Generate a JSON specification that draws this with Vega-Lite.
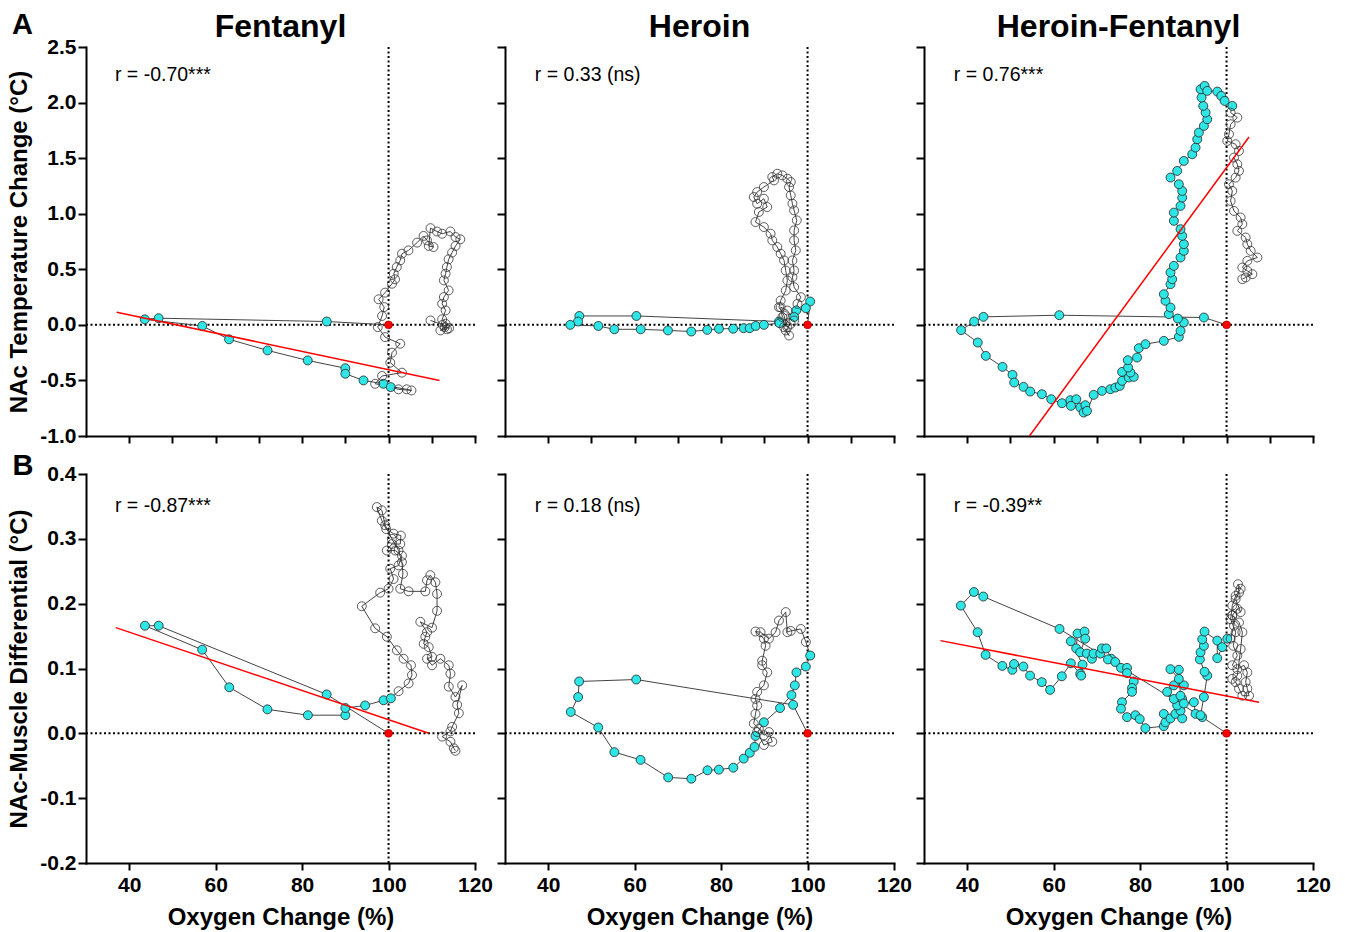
{
"$schema": "https://vega.github.io/schema/vega-lite/v6.json",
"padding": {"left": 7, "top": 10, "right": 5, "bottom": 5},
"datasets": {
"t1": [
{"k":"o","x":100,"y":0},
{"k":"c","x":85.7,"y":0.03},{"k":"c","x":46.8,"y":0.06},{"k":"c","x":43.6,"y":0.05},{"k":"c","x":56.9,"y":-0.01},{"k":"c","x":63.1,"y":-0.13},{"k":"c","x":72.0,"y":-0.23},{"k":"c","x":81.3,"y":-0.32},{"k":"c","x":90.0,"y":-0.39},{"k":"c","x":90.0,"y":-0.44},{"k":"c","x":94.2,"y":-0.5},{"k":"c","x":98.8,"y":-0.53},{"k":"c","x":100.5,"y":-0.56},
{"k":"b","x":102.3,"y":-0.58},{"k":"b","x":105.3,"y":-0.59},{"k":"b","x":104.2,"y":-0.58},{"k":"b","x":96.9,"y":-0.53},{"k":"b","x":98.5,"y":-0.46},{"k":"b","x":103.1,"y":-0.43},{"k":"b","x":100.4,"y":-0.34},{"k":"b","x":100.8,"y":-0.25},{"k":"b","x":102.7,"y":-0.17},{"k":"b","x":99.2,"y":-0.11},{"k":"b","x":97.5,"y":-0.02},{"k":"b","x":98.5,"y":0.08},{"k":"b","x":99.0,"y":0.16},{"k":"b","x":97.7,"y":0.23},{"k":"b","x":99.2,"y":0.29},{"k":"b","x":100.8,"y":0.37},{"k":"b","x":101.5,"y":0.41},{"k":"b","x":101.2,"y":0.46},{"k":"b","x":101.9,"y":0.52},{"k":"b","x":102.7,"y":0.58},{"k":"b","x":103.1,"y":0.64},{"k":"b","x":104.6,"y":0.67},{"k":"b","x":106.6,"y":0.74},{"k":"b","x":108.1,"y":0.8},{"k":"b","x":108.9,"y":0.76},{"k":"b","x":110.4,"y":0.7},{"k":"b","x":109.3,"y":0.71},{"k":"b","x":109.7,"y":0.87},{"k":"b","x":111.2,"y":0.84},{"k":"b","x":112.4,"y":0.82},{"k":"b","x":114.3,"y":0.84},{"k":"b","x":115.5,"y":0.79},{"k":"b","x":116.6,"y":0.77},{"k":"b","x":115.5,"y":0.71},{"k":"b","x":114.7,"y":0.65},{"k":"b","x":113.9,"y":0.59},{"k":"b","x":113.5,"y":0.52},{"k":"b","x":113.2,"y":0.46},{"k":"b","x":112.8,"y":0.4},{"k":"b","x":113.9,"y":0.31},{"k":"b","x":112.8,"y":0.25},{"k":"b","x":112.4,"y":0.19},{"k":"b","x":113.2,"y":0.13},{"k":"b","x":112.4,"y":0.05},{"k":"b","x":113.2,"y":0.01},{"k":"b","x":113.5,"y":-0.04},{"k":"b","x":112.0,"y":-0.05},{"k":"b","x":113.0,"y":-0.02},{"k":"b","x":114.0,"y":-0.03},{"k":"b","x":112.5,"y":0.0},{"k":"b","x":109.7,"y":0.04}
],
"t2": [
{"k":"o","x":100,"y":0},
{"k":"c","x":100.6,"y":0.21},{"k":"c","x":99.6,"y":0.15},{"k":"c","x":97.4,"y":0.13},{"k":"c","x":96.9,"y":0.07},{"k":"c","x":93.4,"y":0.03},{"k":"c","x":60.4,"y":0.08},{"k":"c","x":47.2,"y":0.08},{"k":"c","x":46.9,"y":0.03},{"k":"c","x":45.1,"y":0.0},{"k":"c","x":51.6,"y":-0.01},{"k":"c","x":55.3,"y":-0.04},{"k":"c","x":61.4,"y":-0.04},{"k":"c","x":67.7,"y":-0.05},{"k":"c","x":73.1,"y":-0.06},{"k":"c","x":76.8,"y":-0.045},{"k":"c","x":79.5,"y":-0.035},{"k":"c","x":82.8,"y":-0.035},{"k":"c","x":85.2,"y":-0.03},{"k":"c","x":86.6,"y":-0.03},{"k":"c","x":88.0,"y":-0.01},{"k":"c","x":89.9,"y":0.0},{"k":"c","x":93.5,"y":0.015},
{"k":"b","x":94.56,"y":-0.021},{"k":"b","x":95.72,"y":-0.096},{"k":"b","x":94.95,"y":-0.051},{"k":"b","x":96.11,"y":0.009},{"k":"b","x":94.17,"y":0.069},{"k":"b","x":93.78,"y":0.159},{"k":"b","x":95.33,"y":0.129},{"k":"b","x":96.89,"y":0.039},{"k":"b","x":97.67,"y":0.189},{"k":"b","x":98.44,"y":0.249},{"k":"b","x":96.89,"y":0.339},{"k":"b","x":96.5,"y":0.429},{"k":"b","x":96.89,"y":0.489},{"k":"b","x":96.5,"y":0.58},{"k":"b","x":97.28,"y":0.67},{"k":"b","x":96.89,"y":0.76},{"k":"b","x":96.89,"y":0.85},{"k":"b","x":97.51,"y":0.94},{"k":"b","x":96.89,"y":1.03},{"k":"b","x":96.5,"y":1.09},{"k":"b","x":96.11,"y":1.165},{"k":"b","x":95.72,"y":1.24},{"k":"b","x":96.11,"y":1.285},{"k":"b","x":95.33,"y":1.315},{"k":"b","x":94.17,"y":1.345},{"k":"b","x":93.0,"y":1.36},{"k":"b","x":91.84,"y":1.33},{"k":"b","x":92.23,"y":1.3},{"k":"b","x":89.9,"y":1.24},{"k":"b","x":88.34,"y":1.195},{"k":"b","x":87.56,"y":1.15},{"k":"b","x":88.34,"y":1.09},{"k":"b","x":89.9,"y":1.135},{"k":"b","x":90.67,"y":1.06},{"k":"b","x":88.73,"y":1.015},{"k":"b","x":87.95,"y":0.925},{"k":"b","x":89.9,"y":0.88},{"k":"b","x":91.45,"y":0.82},{"k":"b","x":91.84,"y":0.76},{"k":"b","x":93.0,"y":0.7},{"k":"b","x":93.78,"y":0.64},{"k":"b","x":94.56,"y":0.58},{"k":"b","x":94.95,"y":0.489},{"k":"b","x":95.33,"y":0.399},{"k":"b","x":94.95,"y":0.309},{"k":"b","x":93.78,"y":0.219},{"k":"b","x":93.39,"y":0.159},{"k":"b","x":94.56,"y":0.084},{"k":"b","x":95.33,"y":-0.021}
],
"t3": [
{"k":"o","x":100,"y":0},
{"k":"c","x":94.76,"y":0.066},{"k":"c","x":61.3,"y":0.087},{"k":"c","x":43.76,"y":0.072},{"k":"c","x":41.59,"y":0.03},{"k":"c","x":38.58,"y":-0.048},{"k":"c","x":42.44,"y":-0.159},{"k":"c","x":44.3,"y":-0.279},{"k":"c","x":48.16,"y":-0.378},{"k":"c","x":50.48,"y":-0.45},{"k":"c","x":50.87,"y":-0.519},{"k":"c","x":53.03,"y":-0.558},{"k":"c","x":54.57,"y":-0.6},{"k":"c","x":57.28,"y":-0.624},{"k":"c","x":59.44,"y":-0.669},{"k":"c","x":61.92,"y":-0.705},{"k":"c","x":63.85,"y":-0.678},{"k":"c","x":65.24,"y":-0.669},{"k":"c","x":64.0,"y":-0.729},{"k":"c","x":66.17,"y":-0.744},{"k":"c","x":67.33,"y":-0.723},{"k":"c","x":66.94,"y":-0.789},{"k":"c","x":67.71,"y":-0.774},{"k":"c","x":69.26,"y":-0.63},{"k":"c","x":71.19,"y":-0.594},{"k":"c","x":73.12,"y":-0.579},{"k":"c","x":74.28,"y":-0.564},{"k":"c","x":75.29,"y":-0.549},{"k":"c","x":75.83,"y":-0.504},{"k":"c","x":77.37,"y":-0.474},{"k":"c","x":78.53,"y":-0.468},{"k":"c","x":77.76,"y":-0.429},{"k":"c","x":75.83,"y":-0.423},{"k":"c","x":77.22,"y":-0.384},{"k":"c","x":77.14,"y":-0.318},{"k":"c","x":79.3,"y":-0.294},{"k":"c","x":79.69,"y":-0.21},{"k":"c","x":81.24,"y":-0.174},{"k":"c","x":85.49,"y":-0.144},{"k":"c","x":88.96,"y":-0.108},{"k":"c","x":89.35,"y":-0.054},{"k":"c","x":90.12,"y":0.021},{"k":"c","x":88.73,"y":0.057},{"k":"c","x":86.65,"y":0.096},{"k":"c","x":87.03,"y":0.156},{"k":"c","x":85.87,"y":0.216},{"k":"c","x":85.49,"y":0.276},{"k":"c","x":87.03,"y":0.366},{"k":"c","x":87.42,"y":0.411},{"k":"c","x":87.03,"y":0.471},{"k":"c","x":87.81,"y":0.531},{"k":"c","x":89.35,"y":0.606},{"k":"c","x":90.12,"y":0.666},{"k":"c","x":90.12,"y":0.726},{"k":"c","x":89.74,"y":0.801},{"k":"c","x":89.35,"y":0.861},{"k":"c","x":87.81,"y":0.936},{"k":"c","x":87.81,"y":1.01},{"k":"c","x":89.35,"y":1.07},{"k":"c","x":89.74,"y":1.145},{"k":"c","x":89.74,"y":1.205},{"k":"c","x":88.96,"y":1.265},{"k":"c","x":87.03,"y":1.325},{"k":"c","x":88.58,"y":1.385},{"k":"c","x":90.12,"y":1.475},{"k":"c","x":92.06,"y":1.535},{"k":"c","x":92.83,"y":1.595},{"k":"c","x":93.22,"y":1.67},{"k":"c","x":93.6,"y":1.73},{"k":"c","x":94.76,"y":1.79},{"k":"c","x":95.53,"y":1.85},{"k":"c","x":95.15,"y":1.91},{"k":"c","x":94.61,"y":1.97},{"k":"c","x":94.22,"y":2.045},{"k":"c","x":93.99,"y":2.12},{"k":"c","x":94.92,"y":2.15},{"k":"c","x":95.53,"y":2.105},{"k":"c","x":97.85,"y":2.099},{"k":"c","x":98.78,"y":2.06},{"k":"c","x":99.55,"y":2.015},{"k":"c","x":101.33,"y":1.97},
{"k":"b","x":100.94,"y":1.91},{"k":"b","x":102.49,"y":1.865},{"k":"b","x":100.94,"y":1.805},{"k":"b","x":100.56,"y":1.715},{"k":"b","x":100.17,"y":1.655},{"k":"b","x":102.1,"y":1.625},{"k":"b","x":102.87,"y":1.565},{"k":"b","x":101.72,"y":1.505},{"k":"b","x":102.49,"y":1.445},{"k":"b","x":102.87,"y":1.385},{"k":"b","x":102.1,"y":1.325},{"k":"b","x":100.56,"y":1.265},{"k":"b","x":101.33,"y":1.205},{"k":"b","x":100.94,"y":1.115},{"k":"b","x":101.72,"y":1.025},{"k":"b","x":103.26,"y":0.966},{"k":"b","x":103.65,"y":0.906},{"k":"b","x":102.49,"y":0.846},{"k":"b","x":104.42,"y":0.786},{"k":"b","x":104.81,"y":0.726},{"k":"b","x":105.58,"y":0.666},{"k":"b","x":107.13,"y":0.606},{"k":"b","x":104.81,"y":0.576},{"k":"b","x":103.65,"y":0.516},{"k":"b","x":104.81,"y":0.486},{"k":"b","x":105.97,"y":0.456},{"k":"b","x":104.42,"y":0.426},{"k":"b","x":103.65,"y":0.411}
],
"t4": [
{"k":"o","x":100,"y":0},
{"k":"c","x":85.68,"y":0.06},{"k":"c","x":46.81,"y":0.166},{"k":"c","x":43.64,"y":0.166},{"k":"c","x":56.88,"y":0.129},{"k":"c","x":63.15,"y":0.071},{"k":"c","x":71.97,"y":0.037},{"k":"c","x":81.34,"y":0.028},{"k":"c","x":90.01,"y":0.028},{"k":"c","x":90.01,"y":0.039},{"k":"c","x":94.58,"y":0.043},{"k":"c","x":98.84,"y":0.051},{"k":"c","x":100.54,"y":0.054},
{"k":"b","x":102.32,"y":0.065},{"k":"b","x":104.64,"y":0.077},{"k":"b","x":105.42,"y":0.09},{"k":"b","x":105.19,"y":0.105},{"k":"b","x":103.48,"y":0.115},{"k":"b","x":101.93,"y":0.128},{"k":"b","x":99.61,"y":0.149},{"k":"b","x":96.9,"y":0.162},{"k":"b","x":93.81,"y":0.196},{"k":"b","x":98.06,"y":0.217},{"k":"b","x":100.0,"y":0.223},{"k":"b","x":101.16,"y":0.238},{"k":"b","x":100.39,"y":0.254},{"k":"b","x":102.32,"y":0.259},{"k":"b","x":103.1,"y":0.274},{"k":"b","x":101.55,"y":0.282},{"k":"b","x":99.61,"y":0.282},{"k":"b","x":100.77,"y":0.292},{"k":"b","x":102.71,"y":0.292},{"k":"b","x":102.86,"y":0.305},{"k":"b","x":101.16,"y":0.308},{"k":"b","x":99.46,"y":0.315},{"k":"b","x":98.45,"y":0.328},{"k":"b","x":97.29,"y":0.349},{"k":"b","x":98.45,"y":0.344},{"k":"b","x":99.22,"y":0.321},{"k":"b","x":100.77,"y":0.3},{"k":"b","x":102.32,"y":0.282},{"k":"b","x":103.1,"y":0.264},{"k":"b","x":103.33,"y":0.246},{"k":"b","x":102.71,"y":0.223},{"k":"b","x":104.64,"y":0.219},{"k":"b","x":108.51,"y":0.219},{"k":"b","x":108.9,"y":0.236},{"k":"b","x":109.67,"y":0.244},{"k":"b","x":110.84,"y":0.233},{"k":"b","x":111.22,"y":0.215},{"k":"b","x":111.22,"y":0.189},{"k":"b","x":110.06,"y":0.163},{"k":"b","x":107.35,"y":0.172},{"k":"b","x":108.9,"y":0.156},{"k":"b","x":108.51,"y":0.149},{"k":"b","x":108.13,"y":0.138},{"k":"b","x":109.29,"y":0.133},{"k":"b","x":110.06,"y":0.118},{"k":"b","x":108.9,"y":0.115},{"k":"b","x":110.06,"y":0.105},{"k":"b","x":112.0,"y":0.115},{"k":"b","x":113.93,"y":0.105},{"k":"b","x":114.32,"y":0.092},{"k":"b","x":113.93,"y":0.072},{"k":"b","x":115.48,"y":0.056},{"k":"b","x":117.03,"y":0.074},{"k":"b","x":115.87,"y":0.044},{"k":"b","x":116.26,"y":0.031},{"k":"b","x":114.71,"y":0.01},{"k":"b","x":114.32,"y":0.003},{"k":"b","x":112.39,"y":-0.005},{"k":"b","x":114.32,"y":-0.013},{"k":"b","x":115.1,"y":-0.023},{"k":"b","x":115.48,"y":-0.027}
],
"t5": [
{"k":"o","x":100,"y":0},
{"k":"c","x":96.66,"y":0.044},{"k":"c","x":60.36,"y":0.083},{"k":"c","x":47.15,"y":0.08},{"k":"c","x":46.92,"y":0.056},{"k":"c","x":45.21,"y":0.033},{"k":"c","x":51.58,"y":0.009},{"k":"c","x":55.31,"y":-0.029},{"k":"c","x":61.37,"y":-0.041},{"k":"c","x":67.75,"y":-0.068},{"k":"c","x":73.11,"y":-0.07},{"k":"c","x":76.84,"y":-0.057},{"k":"c","x":79.48,"y":-0.056},{"k":"c","x":82.82,"y":-0.053},{"k":"c","x":85.23,"y":-0.039},{"k":"c","x":86.63,"y":-0.03},{"k":"c","x":87.72,"y":-0.021},{"k":"c","x":87.95,"y":-0.004},{"k":"c","x":89.9,"y":0.017},{"k":"c","x":93.63,"y":0.039},{"k":"c","x":96.27,"y":0.059},{"k":"c","x":97.05,"y":0.074},{"k":"c","x":97.43,"y":0.094},{"k":"c","x":99.61,"y":0.103},{"k":"c","x":100.62,"y":0.12},
{"k":"b","x":99.61,"y":0.141},{"k":"b","x":98.44,"y":0.161},{"k":"b","x":96.11,"y":0.158},{"k":"b","x":95.33,"y":0.156},{"k":"b","x":94.95,"y":0.187},{"k":"b","x":93.39,"y":0.174},{"k":"b","x":92.61,"y":0.156},{"k":"b","x":91.06,"y":0.146},{"k":"b","x":89.12,"y":0.156},{"k":"b","x":87.95,"y":0.157},{"k":"b","x":89.9,"y":0.146},{"k":"b","x":90.29,"y":0.135},{"k":"b","x":89.51,"y":0.112},{"k":"b","x":89.51,"y":0.105},{"k":"b","x":90.67,"y":0.094},{"k":"b","x":89.9,"y":0.074},{"k":"b","x":88.34,"y":0.064},{"k":"b","x":87.95,"y":0.053},{"k":"b","x":88.34,"y":0.043},{"k":"b","x":87.95,"y":0.03},{"k":"b","x":87.56,"y":0.015},{"k":"b","x":88.73,"y":0.007},{"k":"b","x":89.9,"y":-0.003},{"k":"b","x":91.06,"y":0.002},{"k":"b","x":91.84,"y":-0.013},{"k":"b","x":89.9,"y":-0.018},{"k":"b","x":88.34,"y":0.002}
],
"t6": [
{"k":"o","x":100,"y":0},
{"k":"c","x":94.37,"y":0.025},{"k":"c","x":61.35,"y":0.161},{"k":"c","x":43.71,"y":0.211},{"k":"c","x":41.55,"y":0.218},{"k":"c","x":38.53,"y":0.197},{"k":"c","x":42.4,"y":0.156},{"k":"c","x":44.25,"y":0.121},{"k":"c","x":48.12,"y":0.104},{"k":"c","x":50.44,"y":0.098},{"k":"c","x":50.83,"y":0.107},{"k":"c","x":52.99,"y":0.103},{"k":"c","x":54.54,"y":0.089},{"k":"c","x":57.25,"y":0.079},{"k":"c","x":59.18,"y":0.067},{"k":"c","x":61.89,"y":0.088},{"k":"c","x":63.98,"y":0.108},{"k":"c","x":66.14,"y":0.092},{"k":"c","x":66.37,"y":0.089},{"k":"c","x":66.68,"y":0.106},{"k":"c","x":63.98,"y":0.142},{"k":"c","x":65.21,"y":0.131},{"k":"c","x":65.52,"y":0.154},{"k":"c","x":67.15,"y":0.157},{"k":"c","x":67.3,"y":0.146},{"k":"c","x":66.14,"y":0.125},{"k":"c","x":67.69,"y":0.123},{"k":"c","x":68.85,"y":0.115},{"k":"c","x":69.23,"y":0.123},{"k":"c","x":70.78,"y":0.123},{"k":"c","x":71.17,"y":0.131},{"k":"c","x":72.17,"y":0.131},{"k":"c","x":73.33,"y":0.115},{"k":"c","x":72.56,"y":0.114},{"k":"c","x":74.26,"y":0.11},{"k":"c","x":75.58,"y":0.101},{"k":"c","x":76.97,"y":0.101},{"k":"c","x":76.97,"y":0.093},{"k":"c","x":78.52,"y":0.08},{"k":"c","x":78.13,"y":0.07},{"k":"c","x":78.13,"y":0.064},{"k":"c","x":75.81,"y":0.048},{"k":"c","x":75.58,"y":0.038},{"k":"c","x":76.97,"y":0.025},{"k":"c","x":78.9,"y":0.028},{"k":"c","x":79.91,"y":0.022},{"k":"c","x":81.22,"y":0.008},{"k":"c","x":85.48,"y":0.011},{"k":"c","x":85.86,"y":0.017},{"k":"c","x":85.48,"y":0.03},{"k":"c","x":87.02,"y":0.023},{"k":"c","x":88.18,"y":0.03},{"k":"c","x":89.73,"y":0.023},{"k":"c","x":89.34,"y":0.035},{"k":"c","x":88.57,"y":0.043},{"k":"c","x":89.73,"y":0.053},{"k":"c","x":87.8,"y":0.053},{"k":"c","x":86.25,"y":0.064},{"k":"c","x":87.8,"y":0.074},{"k":"c","x":90.12,"y":0.074},{"k":"c","x":88.96,"y":0.084},{"k":"c","x":87.02,"y":0.099},{"k":"c","x":88.96,"y":0.098},{"k":"c","x":89.34,"y":0.058},{"k":"c","x":90.12,"y":0.046},{"k":"c","x":92.44,"y":0.048},{"k":"c","x":92.82,"y":0.03},{"k":"c","x":93.98,"y":0.028},{"k":"c","x":94.76,"y":0.056},{"k":"c","x":95.53,"y":0.089},{"k":"c","x":94.91,"y":0.095},{"k":"c","x":93.83,"y":0.114},{"k":"c","x":93.98,"y":0.125},{"k":"c","x":94.76,"y":0.135},{"k":"c","x":94.37,"y":0.145},{"k":"c","x":94.91,"y":0.157},{"k":"c","x":97.85,"y":0.143},{"k":"c","x":97.85,"y":0.116},{"k":"c","x":99.01,"y":0.133},{"k":"c","x":100.17,"y":0.146},
{"k":"b","x":100.94,"y":0.146},{"k":"b","x":101.72,"y":0.166},{"k":"b","x":101.33,"y":0.182},{"k":"b","x":102.49,"y":0.192},{"k":"b","x":103.26,"y":0.187},{"k":"b","x":102.1,"y":0.207},{"k":"b","x":102.88,"y":0.217},{"k":"b","x":102.64,"y":0.23},{"k":"b","x":103.26,"y":0.223},{"k":"b","x":102.1,"y":0.212},{"k":"b","x":101.33,"y":0.197},{"k":"b","x":100.94,"y":0.176},{"k":"b","x":102.1,"y":0.156},{"k":"b","x":101.56,"y":0.135},{"k":"b","x":102.49,"y":0.12},{"k":"b","x":101.33,"y":0.105},{"k":"b","x":102.49,"y":0.099},{"k":"b","x":104.04,"y":0.105},{"k":"b","x":104.81,"y":0.094},{"k":"b","x":104.42,"y":0.079},{"k":"b","x":104.81,"y":0.069},{"k":"b","x":105.2,"y":0.058},{"k":"b","x":103.65,"y":0.058},{"k":"b","x":102.88,"y":0.069},{"k":"b","x":102.1,"y":0.079},{"k":"b","x":101.33,"y":0.084},{"k":"b","x":102.49,"y":0.089},{"k":"b","x":103.26,"y":0.13},{"k":"b","x":103.65,"y":0.156},{"k":"b","x":102.88,"y":0.171},{"k":"b","x":101.33,"y":0.182}
],
"reg": [
{"p":1,"x":37.1,"y":0.114},{"p":1,"x":111.8,"y":-0.5},
{"p":3,"x":54.4,"y":-1.0},{"p":3,"x":105.2,"y":1.69},
{"p":4,"x":36.9,"y":0.163},{"p":4,"x":109.3,"y":0.0},
{"p":6,"x":33.8,"y":0.143},{"p":6,"x":107.5,"y":0.048}
],
"rl": [
{"p":1,"x":36.7,"y":2.25,"t":"r = -0.70***"},
{"p":2,"x":36.9,"y":2.25,"t":"r = 0.33 (ns)"},
{"p":3,"x":36.9,"y":2.25,"t":"r = 0.76***"},
{"p":4,"x":36.7,"y":0.35,"t":"r = -0.87***"},
{"p":5,"x":36.9,"y":0.35,"t":"r = 0.18 (ns)"},
{"p":6,"x":36.9,"y":0.35,"t":"r = -0.39**"}
],
"pl": [
{"p":1,"x":15.3,"y":2.7,"t":"A"},
{"p":4,"x":15.4,"y":0.413,"t":"B"}
]
},
"columns": 3,
"bounds": "flush",
"spacing": {"row": 38, "column": 30},
"concat": [
{"width":389,"height":389,"title":{"text":"Fentanyl","offset":-33},"layer":[
{"data":{"values":[{}]},"mark":{"type":"rule","strokeDash":[2,2.5],"strokeWidth":2,"color":"black"},"encoding":{"x":{"datum":100}}},
{"data":{"values":[{}]},"mark":{"type":"rule","strokeDash":[2,2.5],"strokeWidth":2,"color":"black"},"encoding":{"y":{"datum":0}}},
{"data":{"name":"t1"},"mark":{"type":"line","color":"#444","strokeWidth":1},"encoding":{"x":{"field":"x","type":"quantitative","scale":{"domain":[30,120]},"axis":{"values":[40,50,60,70,80,90,100,110,120],"labels":false,"title":null}},"y":{"field":"y","type":"quantitative","scale":{"domain":[-1,2.5]},"axis":{"values":[-1,-0.5,0,0.5,1,1.5,2,2.5],"format":".1f","title":"NAc Temperature Change (°C)"}},"order":{"value":null}}},
{"data":{"name":"t1"},"transform":[{"filter":"datum.k=='c'"}],"mark":{"type":"point","shape":"circle","filled":true,"fill":"#2fe6e6","stroke":"#222","strokeWidth":0.8,"size":80,"opacity":1},"encoding":{"x":{"field":"x","type":"quantitative"},"y":{"field":"y","type":"quantitative"}}},
{"data":{"name":"t1"},"transform":[{"filter":"datum.k=='b'"}],"mark":{"type":"point","shape":"circle","filled":false,"stroke":"#333","strokeWidth":0.8,"size":80,"opacity":1},"encoding":{"x":{"field":"x","type":"quantitative"},"y":{"field":"y","type":"quantitative"}}},
{"data":{"name":"t1"},"transform":[{"filter":"datum.k=='o'"}],"mark":{"type":"point","shape":"circle","filled":true,"fill":"#ff0000","stroke":"#b00000","strokeWidth":0.8,"size":60,"opacity":1},"encoding":{"x":{"field":"x","type":"quantitative"},"y":{"field":"y","type":"quantitative"}}},
{"data":{"name":"reg"},"transform":[{"filter":"datum.p==1"}],"mark":{"type":"line","color":"#ff0000","strokeWidth":1.5,"clip":true},"encoding":{"x":{"field":"x","type":"quantitative"},"y":{"field":"y","type":"quantitative"}}},
{"data":{"name":"rl"},"transform":[{"filter":"datum.p==1"}],"mark":{"type":"text","align":"left","baseline":"middle","fontSize":19.5,"font":"Liberation Sans","color":"black"},"encoding":{"x":{"field":"x","type":"quantitative"},"y":{"field":"y","type":"quantitative"},"text":{"field":"t"}}},
{"data":{"name":"pl"},"transform":[{"filter":"datum.p==1"}],"mark":{"type":"text","align":"center","baseline":"middle","fontSize":29,"fontWeight":"bold","font":"Liberation Sans","color":"black"},"encoding":{"x":{"field":"x","type":"quantitative"},"y":{"field":"y","type":"quantitative"},"text":{"field":"t"}}}
]},
{"width":389,"height":389,"title":{"text":"Heroin","offset":2},"layer":[
{"data":{"values":[{}]},"mark":{"type":"rule","strokeDash":[2,2.5],"strokeWidth":2,"color":"black"},"encoding":{"x":{"datum":100}}},
{"data":{"values":[{}]},"mark":{"type":"rule","strokeDash":[2,2.5],"strokeWidth":2,"color":"black"},"encoding":{"y":{"datum":0}}},
{"data":{"name":"t2"},"mark":{"type":"line","color":"#444","strokeWidth":1},"encoding":{"x":{"field":"x","type":"quantitative","scale":{"domain":[30,120]},"axis":{"values":[40,50,60,70,80,90,100,110,120],"labels":false,"title":null}},"y":{"field":"y","type":"quantitative","scale":{"domain":[-1,2.5]},"axis":{"values":[-1,-0.5,0,0.5,1,1.5,2,2.5],"labels":false,"title":null}},"order":{"value":null}}},
{"data":{"name":"t2"},"transform":[{"filter":"datum.k=='c'"}],"mark":{"type":"point","shape":"circle","filled":true,"fill":"#2fe6e6","stroke":"#222","strokeWidth":0.8,"size":80,"opacity":1},"encoding":{"x":{"field":"x","type":"quantitative"},"y":{"field":"y","type":"quantitative"}}},
{"data":{"name":"t2"},"transform":[{"filter":"datum.k=='b'"}],"mark":{"type":"point","shape":"circle","filled":false,"stroke":"#333","strokeWidth":0.8,"size":80,"opacity":1},"encoding":{"x":{"field":"x","type":"quantitative"},"y":{"field":"y","type":"quantitative"}}},
{"data":{"name":"t2"},"transform":[{"filter":"datum.k=='o'"}],"mark":{"type":"point","shape":"circle","filled":true,"fill":"#ff0000","stroke":"#b00000","strokeWidth":0.8,"size":60,"opacity":1},"encoding":{"x":{"field":"x","type":"quantitative"},"y":{"field":"y","type":"quantitative"}}},
{"data":{"name":"rl"},"transform":[{"filter":"datum.p==2"}],"mark":{"type":"text","align":"left","baseline":"middle","fontSize":19.5,"font":"Liberation Sans","color":"black"},"encoding":{"x":{"field":"x","type":"quantitative"},"y":{"field":"y","type":"quantitative"},"text":{"field":"t"}}}
]},
{"width":389,"height":389,"title":{"text":"Heroin-Fentanyl","offset":2},"layer":[
{"data":{"values":[{}]},"mark":{"type":"rule","strokeDash":[2,2.5],"strokeWidth":2,"color":"black"},"encoding":{"x":{"datum":100}}},
{"data":{"values":[{}]},"mark":{"type":"rule","strokeDash":[2,2.5],"strokeWidth":2,"color":"black"},"encoding":{"y":{"datum":0}}},
{"data":{"name":"t3"},"mark":{"type":"line","color":"#444","strokeWidth":1},"encoding":{"x":{"field":"x","type":"quantitative","scale":{"domain":[30,120]},"axis":{"values":[40,50,60,70,80,90,100,110,120],"labels":false,"title":null}},"y":{"field":"y","type":"quantitative","scale":{"domain":[-1,2.5]},"axis":{"values":[-1,-0.5,0,0.5,1,1.5,2,2.5],"labels":false,"title":null}},"order":{"value":null}}},
{"data":{"name":"t3"},"transform":[{"filter":"datum.k=='c'"}],"mark":{"type":"point","shape":"circle","filled":true,"fill":"#2fe6e6","stroke":"#222","strokeWidth":0.8,"size":80,"opacity":1},"encoding":{"x":{"field":"x","type":"quantitative"},"y":{"field":"y","type":"quantitative"}}},
{"data":{"name":"t3"},"transform":[{"filter":"datum.k=='b'"}],"mark":{"type":"point","shape":"circle","filled":false,"stroke":"#333","strokeWidth":0.8,"size":80,"opacity":1},"encoding":{"x":{"field":"x","type":"quantitative"},"y":{"field":"y","type":"quantitative"}}},
{"data":{"name":"t3"},"transform":[{"filter":"datum.k=='o'"}],"mark":{"type":"point","shape":"circle","filled":true,"fill":"#ff0000","stroke":"#b00000","strokeWidth":0.8,"size":60,"opacity":1},"encoding":{"x":{"field":"x","type":"quantitative"},"y":{"field":"y","type":"quantitative"}}},
{"data":{"name":"reg"},"transform":[{"filter":"datum.p==3"}],"mark":{"type":"line","color":"#ff0000","strokeWidth":1.5,"clip":true},"encoding":{"x":{"field":"x","type":"quantitative"},"y":{"field":"y","type":"quantitative"}}},
{"data":{"name":"rl"},"transform":[{"filter":"datum.p==3"}],"mark":{"type":"text","align":"left","baseline":"middle","fontSize":19.5,"font":"Liberation Sans","color":"black"},"encoding":{"x":{"field":"x","type":"quantitative"},"y":{"field":"y","type":"quantitative"},"text":{"field":"t"}}}
]},
{"width":389,"height":389,"layer":[
{"data":{"values":[{}]},"mark":{"type":"rule","strokeDash":[2,2.5],"strokeWidth":2,"color":"black"},"encoding":{"x":{"datum":100}}},
{"data":{"values":[{}]},"mark":{"type":"rule","strokeDash":[2,2.5],"strokeWidth":2,"color":"black"},"encoding":{"y":{"datum":0}}},
{"data":{"name":"t4"},"mark":{"type":"line","color":"#444","strokeWidth":1},"encoding":{"x":{"field":"x","type":"quantitative","scale":{"domain":[30,120]},"axis":{"values":[40,60,80,100,120],"format":"d","title":"Oxygen Change (%)"}},"y":{"field":"y","type":"quantitative","scale":{"domain":[-0.2,0.4]},"axis":{"values":[-0.2,-0.1,0,0.1,0.2,0.3,0.4],"format":".1f","title":"NAc-Muscle Differential (°C)"}},"order":{"value":null}}},
{"data":{"name":"t4"},"transform":[{"filter":"datum.k=='c'"}],"mark":{"type":"point","shape":"circle","filled":true,"fill":"#2fe6e6","stroke":"#222","strokeWidth":0.8,"size":80,"opacity":1},"encoding":{"x":{"field":"x","type":"quantitative"},"y":{"field":"y","type":"quantitative"}}},
{"data":{"name":"t4"},"transform":[{"filter":"datum.k=='b'"}],"mark":{"type":"point","shape":"circle","filled":false,"stroke":"#333","strokeWidth":0.8,"size":80,"opacity":1},"encoding":{"x":{"field":"x","type":"quantitative"},"y":{"field":"y","type":"quantitative"}}},
{"data":{"name":"t4"},"transform":[{"filter":"datum.k=='o'"}],"mark":{"type":"point","shape":"circle","filled":true,"fill":"#ff0000","stroke":"#b00000","strokeWidth":0.8,"size":60,"opacity":1},"encoding":{"x":{"field":"x","type":"quantitative"},"y":{"field":"y","type":"quantitative"}}},
{"data":{"name":"reg"},"transform":[{"filter":"datum.p==4"}],"mark":{"type":"line","color":"#ff0000","strokeWidth":1.5,"clip":true},"encoding":{"x":{"field":"x","type":"quantitative"},"y":{"field":"y","type":"quantitative"}}},
{"data":{"name":"rl"},"transform":[{"filter":"datum.p==4"}],"mark":{"type":"text","align":"left","baseline":"middle","fontSize":19.5,"font":"Liberation Sans","color":"black"},"encoding":{"x":{"field":"x","type":"quantitative"},"y":{"field":"y","type":"quantitative"},"text":{"field":"t"}}},
{"data":{"name":"pl"},"transform":[{"filter":"datum.p==4"}],"mark":{"type":"text","align":"center","baseline":"middle","fontSize":29,"fontWeight":"bold","font":"Liberation Sans","color":"black"},"encoding":{"x":{"field":"x","type":"quantitative"},"y":{"field":"y","type":"quantitative"},"text":{"field":"t"}}}
]},
{"width":389,"height":389,"layer":[
{"data":{"values":[{}]},"mark":{"type":"rule","strokeDash":[2,2.5],"strokeWidth":2,"color":"black"},"encoding":{"x":{"datum":100}}},
{"data":{"values":[{}]},"mark":{"type":"rule","strokeDash":[2,2.5],"strokeWidth":2,"color":"black"},"encoding":{"y":{"datum":0}}},
{"data":{"name":"t5"},"mark":{"type":"line","color":"#444","strokeWidth":1},"encoding":{"x":{"field":"x","type":"quantitative","scale":{"domain":[30,120]},"axis":{"values":[40,60,80,100,120],"format":"d","title":"Oxygen Change (%)"}},"y":{"field":"y","type":"quantitative","scale":{"domain":[-0.2,0.4]},"axis":{"values":[-0.2,-0.1,0,0.1,0.2,0.3,0.4],"labels":false,"title":null}},"order":{"value":null}}},
{"data":{"name":"t5"},"transform":[{"filter":"datum.k=='c'"}],"mark":{"type":"point","shape":"circle","filled":true,"fill":"#2fe6e6","stroke":"#222","strokeWidth":0.8,"size":80,"opacity":1},"encoding":{"x":{"field":"x","type":"quantitative"},"y":{"field":"y","type":"quantitative"}}},
{"data":{"name":"t5"},"transform":[{"filter":"datum.k=='b'"}],"mark":{"type":"point","shape":"circle","filled":false,"stroke":"#333","strokeWidth":0.8,"size":80,"opacity":1},"encoding":{"x":{"field":"x","type":"quantitative"},"y":{"field":"y","type":"quantitative"}}},
{"data":{"name":"t5"},"transform":[{"filter":"datum.k=='o'"}],"mark":{"type":"point","shape":"circle","filled":true,"fill":"#ff0000","stroke":"#b00000","strokeWidth":0.8,"size":60,"opacity":1},"encoding":{"x":{"field":"x","type":"quantitative"},"y":{"field":"y","type":"quantitative"}}},
{"data":{"name":"rl"},"transform":[{"filter":"datum.p==5"}],"mark":{"type":"text","align":"left","baseline":"middle","fontSize":19.5,"font":"Liberation Sans","color":"black"},"encoding":{"x":{"field":"x","type":"quantitative"},"y":{"field":"y","type":"quantitative"},"text":{"field":"t"}}}
]},
{"width":389,"height":389,"layer":[
{"data":{"values":[{}]},"mark":{"type":"rule","strokeDash":[2,2.5],"strokeWidth":2,"color":"black"},"encoding":{"x":{"datum":100}}},
{"data":{"values":[{}]},"mark":{"type":"rule","strokeDash":[2,2.5],"strokeWidth":2,"color":"black"},"encoding":{"y":{"datum":0}}},
{"data":{"name":"t6"},"mark":{"type":"line","color":"#444","strokeWidth":1},"encoding":{"x":{"field":"x","type":"quantitative","scale":{"domain":[30,120]},"axis":{"values":[40,60,80,100,120],"format":"d","title":"Oxygen Change (%)"}},"y":{"field":"y","type":"quantitative","scale":{"domain":[-0.2,0.4]},"axis":{"values":[-0.2,-0.1,0,0.1,0.2,0.3,0.4],"labels":false,"title":null}},"order":{"value":null}}},
{"data":{"name":"t6"},"transform":[{"filter":"datum.k=='c'"}],"mark":{"type":"point","shape":"circle","filled":true,"fill":"#2fe6e6","stroke":"#222","strokeWidth":0.8,"size":80,"opacity":1},"encoding":{"x":{"field":"x","type":"quantitative"},"y":{"field":"y","type":"quantitative"}}},
{"data":{"name":"t6"},"transform":[{"filter":"datum.k=='b'"}],"mark":{"type":"point","shape":"circle","filled":false,"stroke":"#333","strokeWidth":0.8,"size":80,"opacity":1},"encoding":{"x":{"field":"x","type":"quantitative"},"y":{"field":"y","type":"quantitative"}}},
{"data":{"name":"t6"},"transform":[{"filter":"datum.k=='o'"}],"mark":{"type":"point","shape":"circle","filled":true,"fill":"#ff0000","stroke":"#b00000","strokeWidth":0.8,"size":60,"opacity":1},"encoding":{"x":{"field":"x","type":"quantitative"},"y":{"field":"y","type":"quantitative"}}},
{"data":{"name":"reg"},"transform":[{"filter":"datum.p==6"}],"mark":{"type":"line","color":"#ff0000","strokeWidth":1.5,"clip":true},"encoding":{"x":{"field":"x","type":"quantitative"},"y":{"field":"y","type":"quantitative"}}},
{"data":{"name":"rl"},"transform":[{"filter":"datum.p==6"}],"mark":{"type":"text","align":"left","baseline":"middle","fontSize":19.5,"font":"Liberation Sans","color":"black"},"encoding":{"x":{"field":"x","type":"quantitative"},"y":{"field":"y","type":"quantitative"},"text":{"field":"t"}}}
]}
],
"config": {
"view": {"stroke": null},
"font": "Liberation Sans",
"scale": {"zero": false},
"locale": {"number": {"decimal": ".", "thousands": ",", "grouping": [3], "currency": ["$", ""], "minus": "-"}},
"axis": {"domainColor": "black", "domainWidth": 2, "domainCap": "square", "tickColor": "black", "tickWidth": 2, "grid": false, "labelFont": "Liberation Sans", "labelFontWeight": "bold", "labelFontSize": 21, "labelColor": "black", "titleFont": "Liberation Sans", "titleFontWeight": "bold", "titleFontSize": 24, "titleColor": "black", "labelFlush": false, "labelOverlap": false},
"axisX": {"tickSize": 7, "labelPadding": 4, "titlePadding": 10},
"axisY": {"tickSize": 8, "labelPadding": 2, "titlePadding": 8},
"title": {"font": "Liberation Sans", "fontSize": 32, "fontWeight": "bold", "color": "black", "frame": "group", "baseline": "alphabetic", "anchor": "middle"}
}
}
